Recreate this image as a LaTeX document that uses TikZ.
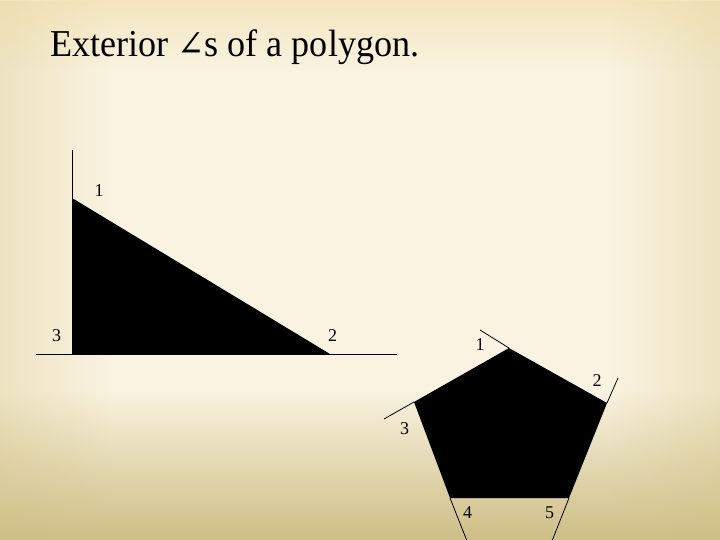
\documentclass[tikz,border=0pt]{standalone}
\usepackage{fontspec}
\setmainfont{Liberation Serif}
\newfontfamily\titlefont[FakeStretch=0.95]{Liberation Serif}
\newfontfamily\anglefont[Scale=0.95,FakeStretch=0.9]{DejaVu Serif}
\usetikzlibrary{fadings}
\definecolor{paper}{RGB}{250,243,225}
\definecolor{parchment}{RGB}{226,212,162}
\definecolor{crust}{RGB}{238,220,168}
\definecolor{sand}{RGB}{206,190,134}
\tikzfading[name=fadeleft, left color=transparent!50, right color=transparent!100]
\tikzfading[name=faderight, left color=transparent!100, right color=transparent!50]
\tikzfading[name=fadetop, top color=transparent!40, bottom color=transparent!100]
\tikzfading[name=fadebottom, top color=transparent!100, bottom color=transparent!0]
\begin{document}
\begin{tikzpicture}[x=1pt,y=-1pt]
            % page
            \fill[paper] (0,0) rectangle (720,540);
            \fill[parchment, path fading=fadeleft] (0,0) rectangle (110,540);
            \fill[parchment, path fading=faderight] (610,0) rectangle (720,540);
            \fill[crust, path fading=fadetop] (0,0) rectangle (720,70);
            \fill[sand, path fading=fadebottom] (0,390) rectangle (720,540);
            \useasboundingbox (0,0) rectangle (720,540);
            \node[anchor=base west, inner sep=0pt, font=\titlefont\fontsize{38}{40}\selectfont] (title) at (50,57) {Exterior {\anglefont ∠}s of a polygon.};
            % triangle
            \coordinate (t1) at (72,198);
            \coordinate (t3) at (72,354);
            \coordinate (t2) at (330,354);
            \coordinate (up) at (72,150);
            \coordinate (left) at (36,354);
            \coordinate (right) at (397,354);
            \fill (t1) -- (t3) -- (t2) -- cycle;
            % pentagon
            \coordinate (p1) at (509,348);
            \coordinate (p2) at (607,403);
            \coordinate (p5) at (569,498);
            \coordinate (p4) at (450,498);
            \coordinate (p3) at (414,402);
            \coordinate (e1) at (480,330);
            \coordinate (e2) at (618,378);
            \coordinate (e3) at (384,419);
            \coordinate (e4) at (467,541);
            \coordinate (e5) at (552,541);
            \fill (p1) -- (p2) -- (p5) -- (p4) -- (p3) -- cycle;
            \begin{scope}[every node/.style={inner sep=0pt,font=\fontsize{18}{20}\selectfont}]
                \node (a1) at (99,191) {1};
                \node (a2) at (332.5,336) {2};
                \node (a3) at (56.5,336) {3};
                \node (b1) at (480,345) {1};
                \node (b2) at (597,381) {2};
                \node (b3) at (404.5,429) {3};
                \node (b4) at (467.5,513) {4};
                \node (b5) at (549.5,513) {5};
            \end{scope}
            \begin{scope}[line width=0.8pt]
                \path
                    (up) edge (t3)
                    (left) edge (right)
                    (p1) edge (e1)
                    (p2) edge (e2)
                    (p3) edge (e3)
                    (p4) edge (e4)
                    (p5) edge (e5);
            \end{scope}
        \end{tikzpicture}
\end{document}
